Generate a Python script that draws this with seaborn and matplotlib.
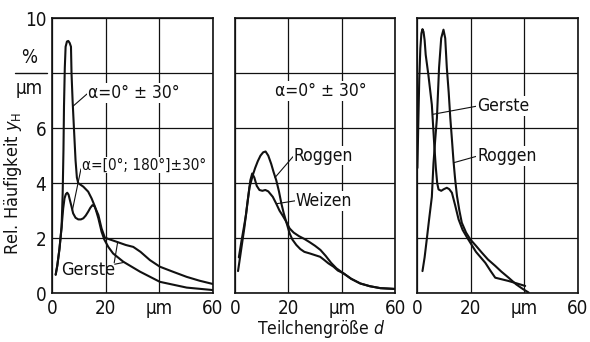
"""Rel. Häufigkeit y_H über Teilchengröße d, drei Teilbilder (Gerste / Roggen / Weizen)."""

import matplotlib
matplotlib.use("Agg")
import matplotlib.pyplot as plt
import matplotlib.transforms as mtransforms
import pandas as pd
import seaborn as sns

# ---- Teilbild 1: Gerste, zwei Orientierungen --------------------------------
g1_a_x = [1.4, 2.0, 2.8, 3.6, 4.0, 4.3, 4.5, 4.8, 5.1, 5.6, 6.1, 6.6, 7.1, 7.3,
          7.7, 8.2, 8.8, 9.3, 9.8, 11.7, 13.5, 14.8, 16.0, 17.3, 18.5, 19.5,
          21.0, 22.8, 26.6, 32.8, 40.2, 50.2, 60.0]
g1_a_y = [0.67, 1.0, 1.6, 2.4, 3.6, 5.2, 6.8, 8.2, 8.96, 9.15, 9.17, 9.1, 8.96,
          8.0, 7.0, 6.0, 4.83, 4.2, 4.0, 3.87, 3.69, 3.44, 3.15, 2.72, 2.23,
          1.95, 1.68, 1.44, 1.14, 0.78, 0.41, 0.2, 0.11]
g1_b_x = [1.4, 2.0, 2.8, 3.6, 4.2, 4.7, 5.2, 5.7, 6.2, 6.7, 7.3, 7.9, 8.8, 9.8,
          10.8, 11.7, 12.6, 13.5, 14.3, 15.1, 15.9, 16.6, 17.3, 18.5, 19.7,
          21.0, 24.0, 27.5, 30.3, 33.0, 36.5, 40.2, 45.0, 50.2, 55.0, 60.0]
g1_b_y = [0.67, 1.0, 1.6, 2.4, 3.08, 3.45, 3.6, 3.65, 3.58, 3.38, 3.15, 2.9,
          2.74, 2.68, 2.68, 2.72, 2.82, 2.96, 3.1, 3.2, 3.15, 3.0, 2.84, 2.35,
          2.02, 1.97, 1.87, 1.75, 1.68, 1.5, 1.2, 0.96, 0.78, 0.59, 0.45, 0.33]

# ---- Teilbild 2: Roggen und Weizen, alpha = 0 +- 30 -------------------------
weizen_x = [1.5, 2.5, 3.4, 4.2, 5.0, 5.8, 6.5, 7.3, 8.2, 9.2, 10.3, 11.4, 12.5,
            14.2, 15.5, 16.7, 18.0, 19.2, 20.5, 22.0, 24.0, 26.0, 28.0, 30.0,
            32.0, 34.0, 36.0, 38.0, 40.6, 43.5, 46.9, 50.5, 54.4, 60.0]
weizen_y = [1.3, 1.9, 2.4, 2.86, 3.5, 4.1, 4.35, 4.2, 3.9, 3.75, 3.72, 3.75,
            3.7, 3.5, 3.25, 3.0, 2.8, 2.6, 2.35, 2.2, 2.07, 1.97, 1.85, 1.72,
            1.57, 1.35, 1.1, 0.9, 0.72, 0.52, 0.35, 0.25, 0.18, 0.15]
roggen2_x = [1.2, 2.4, 3.6, 4.6, 5.5, 6.75, 7.6, 8.6, 9.6, 10.6, 11.5, 12.5,
             13.6, 14.5, 15.5, 16.5, 17.4, 18.3, 19.2, 20.5, 21.5, 23.0, 24.5,
             26.0, 28.1, 30.0, 31.9, 33.5, 35.0, 36.9, 38.5, 40.6, 43.5, 46.9,
             50.5, 54.4, 60.0]
roggen2_y = [0.8, 1.6, 2.4, 3.2, 3.85, 4.3, 4.55, 4.8, 5.0, 5.12, 5.15, 5.0,
             4.7, 4.4, 4.1, 3.7, 3.26, 2.9, 2.6, 2.17, 1.95, 1.75, 1.6, 1.5,
             1.44, 1.38, 1.32, 1.2, 1.08, 0.96, 0.82, 0.72, 0.52, 0.35, 0.25,
             0.18, 0.15]

# ---- Teilbild 3: Gerste und Roggen ------------------------------------------
gerste3_x = [0.1, 0.4, 0.8, 1.2, 1.6, 2.0, 2.4, 2.8, 3.2, 4.2, 5.5, 6.4, 7.0,
             7.5, 8.0, 9.0, 10.0, 11.1, 12.0, 13.0, 14.2, 15.5, 17.0, 18.5,
             19.9, 22.0, 25.5, 27.5, 29.2, 31.7, 34.2, 37.0, 40.4]
gerste3_y = [4.55, 6.0, 7.8, 8.9, 9.45, 9.6, 9.5, 9.2, 8.67, 7.94, 6.85, 5.4,
             4.55, 4.0, 3.77, 3.72, 3.78, 3.83, 3.78, 3.65, 3.2, 2.68, 2.3,
             2.05, 1.83, 1.5, 1.1, 0.8, 0.56, 0.5, 0.44, 0.36, 0.26]
roggen3_x = [2.0, 2.8, 3.6, 4.5, 5.5, 6.1, 6.7, 7.4, 8.2, 9.0, 9.85, 10.5, 11.1,
             11.8, 12.4, 13.0, 13.6, 14.2, 14.9, 15.8, 16.7, 18.3, 19.9, 22.0,
             24.2, 26.5, 29.2, 31.5, 34.2, 37.0, 39.5, 41.7]
roggen3_y = [0.8, 1.3, 1.95, 2.7, 3.5, 4.7, 5.5, 6.37, 8.2, 9.27, 9.58, 9.27,
             8.2, 7.3, 6.37, 5.6, 4.8, 4.15, 3.53, 3.0, 2.56, 2.2, 1.95, 1.72,
             1.47, 1.22, 0.99, 0.78, 0.56, 0.32, 0.15, 0.02]

x_ticks = [0, 20, 40, 60]
x_ticklabels = ["0", "20", "µm", "60"]
y_ticks = [0, 2, 4, 6, 8, 10]
y_ticklabels = ["0", "2", "4", "6", "", "10"]

FS = 12.5
TICK_FS = 13.5
LW = 1.5
INK = "#111111"


def curve(ax, xs, ys):
    df = pd.DataFrame({"d": xs, "yH": ys})
    sns.lineplot(data=df, x="d", y="yH", ax=ax, color=INK, lw=LW,
                 estimator=None, sort=False)


def label(ax, text, xy, xytext, fs=FS):
    ax.annotate(text, xy=xy, xytext=xytext, fontsize=fs, ha="left",
                va="center", color=INK,
                bbox=dict(boxstyle="square,pad=0.05", fc="white", ec="none"),
                arrowprops=dict(arrowstyle="-", lw=0.8, color=INK,
                                relpos=(0.0, 0.5), shrinkA=0, shrinkB=0))


def style_axes(ax, first):
    ax.set_xlim(0, 60)
    ax.set_ylim(0, 10)
    ax.set_xticks(x_ticks)
    ax.set_xticklabels(x_ticklabels, fontsize=TICK_FS)
    ax.set_yticks(y_ticks)
    if first:
        ax.set_yticklabels(y_ticklabels, fontsize=TICK_FS)
    else:
        ax.set_yticklabels([])
    ax.set_xlabel("")
    ax.set_ylabel("")
    ax.grid(True, color=INK, lw=0.9)
    ax.set_axisbelow(True)
    for sp in ax.spines.values():
        sp.set_visible(True)
        sp.set_color(INK)
        sp.set_linewidth(1.2)
    ax.tick_params(axis="both", length=0, colors=INK)
    ax.tick_params(axis="x", pad=4)
    ax.tick_params(axis="y", pad=4)


sns.set_theme(style="white")
plt.rcParams["font.family"] = ["DejaVu Sans"]
plt.rcParams["font.stretch"] = "condensed"
plt.rcParams["mathtext.fontset"] = "dejavusans"

fig = plt.figure(figsize=(5.9, 3.42), dpi=100)
ax1 = fig.add_axes([0.088, 0.143, 0.273, 0.804])
ax2 = fig.add_axes([0.398, 0.143, 0.272, 0.804])
ax3 = fig.add_axes([0.707, 0.143, 0.272, 0.804])

curve(ax1, g1_a_x, g1_a_y)
curve(ax1, g1_b_x, g1_b_y)
curve(ax2, weizen_x, weizen_y)
curve(ax2, roggen2_x, roggen2_y)
curve(ax3, gerste3_x, gerste3_y)
curve(ax3, roggen3_x, roggen3_y)

for i, ax in enumerate((ax1, ax2, ax3)):
    style_axes(ax, i == 0)

# Beschriftungen Teilbild 1
label(ax1, "α=0° ± 30°", xy=(7.9, 6.8), xytext=(13.4, 7.27))
label(ax1, "α=[0°; 180°]±30°", xy=(7.6, 3.0), xytext=(11.1, 4.65), fs=11)
ax1.text(3.6, 0.84, "Gerste", fontsize=13, ha="left", va="center", color=INK)
ax1.annotate("", xy=(24.5, 1.86), xytext=(23.2, 1.1),
             arrowprops=dict(arrowstyle="-", lw=0.8, color=INK,
                             shrinkA=0, shrinkB=0))
ax1.annotate("", xy=(27.0, 1.12), xytext=(23.4, 1.05),
             arrowprops=dict(arrowstyle="-", lw=0.8, color=INK,
                             shrinkA=0, shrinkB=0))

# Einheit %/µm an Stelle der 8
trans = mtransforms.blended_transform_factory(ax1.transAxes, ax1.transData)
ax1.text(-0.14, 8.55, "%", transform=trans, fontsize=TICK_FS, ha="center",
         va="center", color=INK)
ax1.text(-0.14, 7.45, "µm", transform=trans, fontsize=TICK_FS, ha="center",
         va="center", color=INK)
ax1.plot([-0.23, -0.03], [8, 8], transform=trans, color=INK, lw=1.0,
         clip_on=False)

ax1.set_ylabel("Rel. Häufigkeit $y_\\mathrm{H}$", fontsize=13, color=INK)
ax1.yaxis.set_label_coords(-0.175, 0.40)

# Beschriftungen Teilbild 2
ax2.text(15.0, 7.36, "α=0° ± 30°", fontsize=FS, ha="left", va="center",
         color=INK, bbox=dict(boxstyle="square,pad=0.05", fc="white",
                              ec="none"))
label(ax2, "Roggen", xy=(15.0, 4.2), xytext=(22.1, 5.0))
label(ax2, "Weizen", xy=(15.6, 3.25), xytext=(22.8, 3.36))

# Beschriftungen Teilbild 3
label(ax3, "Gerste", xy=(5.8, 6.5), xytext=(22.4, 6.8))
label(ax3, "Roggen", xy=(13.6, 4.74), xytext=(22.4, 4.98))

fig.text(0.544, 0.038, "Teilchengröße $d$", fontsize=FS, ha="center",
         va="center", color=INK)

fig.savefig("out.png", dpi=100, facecolor="white")
